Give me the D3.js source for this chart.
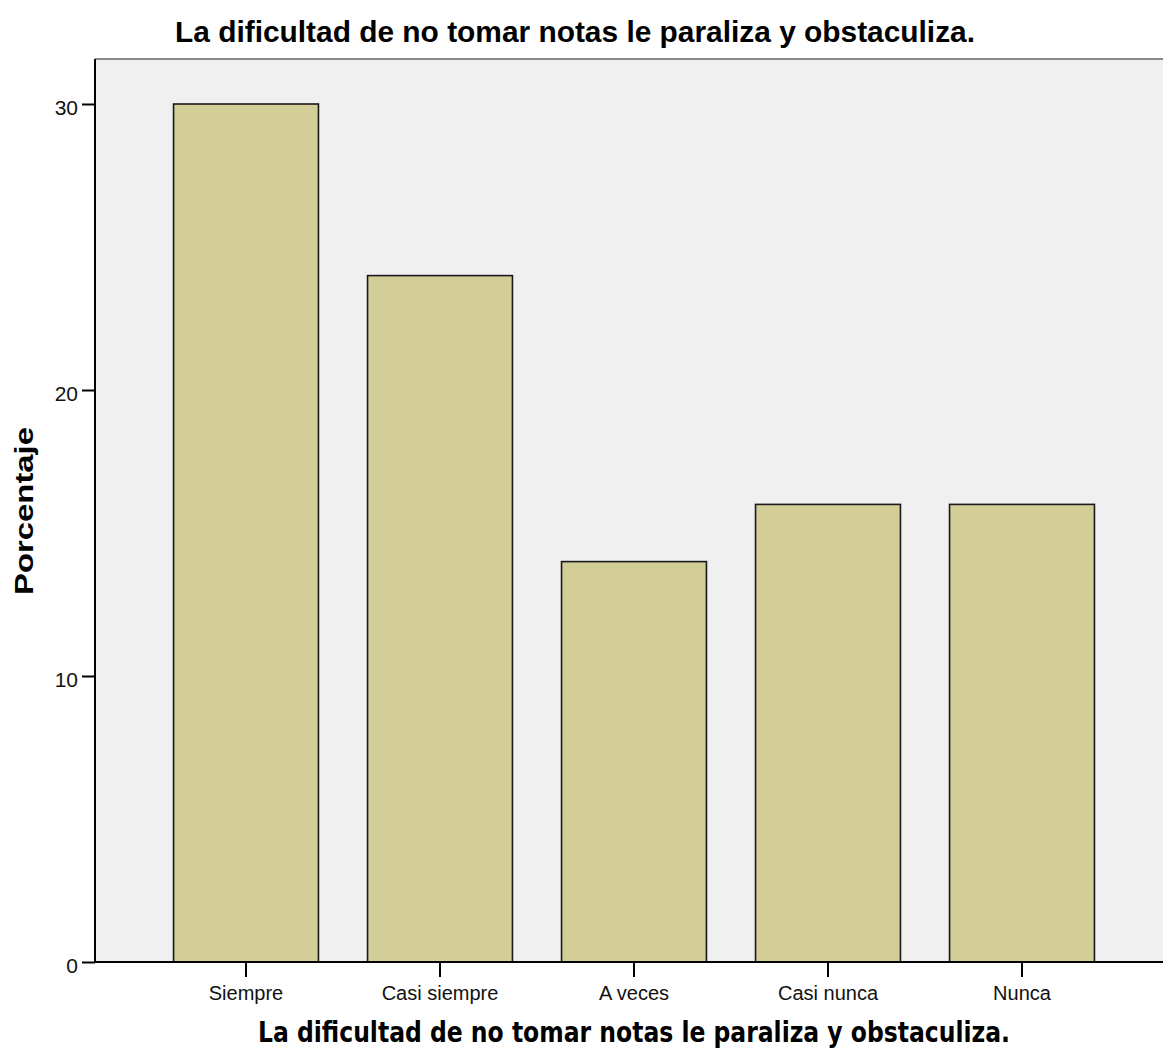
<!DOCTYPE html>
<html>
<head>
<meta charset="utf-8">
<script src="https://cdn.jsdelivr.net/npm/d3@7"></script>
<style>
  html, body { margin: 0; padding: 0; background: #ffffff; }
  svg { display: block; }
</style>
</head>
<body>
<svg id="chart" width="1163" height="1059"></svg>
<script>
// ---- data ----
const categories = ["Siempre", "Casi siempre", "A veces", "Casi nunca", "Nunca"];
const percentages = [30, 24, 14, 16, 16];
const yTickValues = [0, 10, 20, 30];
const titleText = "La dificultad de no tomar notas le paraliza y obstaculiza.";
const xAxisTitle = "La dificultad de no tomar notas le paraliza y obstaculiza.";
const yAxisTitle = "Porcentaje";

// ---- layout ----
const svg = d3.select("#chart");
const plotLeft = 95, plotTop = 59, plotRight = 1163, plotBottom = 962;

const x = d3.scaleBand()
  .domain(categories)
  .range([149, 1119])
  .paddingInner(0.253)
  .paddingOuter(0.1265);

const y = d3.scaleLinear()
  .domain([0, 30])
  .range([plotBottom, 104]);

// plot background
svg.append("rect")
  .attr("x", plotLeft).attr("y", plotTop)
  .attr("width", plotRight - plotLeft).attr("height", plotBottom - plotTop)
  .attr("fill", "#f0f0f0");

// top border
svg.append("line")
  .attr("x1", plotLeft).attr("x2", plotRight)
  .attr("y1", plotTop).attr("y2", plotTop)
  .attr("stroke", "#8a8a8a").attr("stroke-width", 2);

// bars
svg.append("g").selectAll("rect")
  .data(categories.map((c, i) => ({ c, v: percentages[i] })))
  .join("rect")
  .attr("x", d => x(d.c))
  .attr("y", d => y(d.v))
  .attr("width", x.bandwidth())
  .attr("height", d => y(0) - y(d.v))
  .attr("fill", "#d3ce97")
  .attr("stroke", "#1a1a1a")
  .attr("stroke-width", 1.6);

// y axis
const yAxis = d3.axisLeft(y).tickValues(yTickValues).tickSize(13).tickPadding(4).tickFormat(d3.format("d"));
const gy = svg.append("g").attr("transform", `translate(${plotLeft},0)`).call(yAxis);
gy.select(".domain").remove();
gy.selectAll(".tick line").attr("stroke", "#000").attr("stroke-width", 2);
gy.selectAll(".tick text")
  .attr("font-family", "'Liberation Sans', Arial, sans-serif")
  .attr("font-size", 21)
  .attr("fill", "#111")
  .attr("dy", null)
  .attr("y", 10);

svg.append("line")
  .attr("x1", plotLeft).attr("x2", plotLeft)
  .attr("y1", plotTop).attr("y2", plotBottom + 1)
  .attr("stroke", "#000").attr("stroke-width", 2);

// x axis
const xAxis = d3.axisBottom(x).tickSize(15).tickPadding(8);
const gx = svg.append("g").attr("transform", `translate(0,${plotBottom})`).call(xAxis);
gx.select(".domain").remove();
gx.selectAll(".tick line").attr("stroke", "#000").attr("stroke-width", 2);
gx.selectAll(".tick text")
  .attr("font-family", "'Liberation Sans', Arial, sans-serif")
  .attr("font-size", 20)
  .attr("fill", "#111")
  .attr("dy", null)
  .attr("y", 38);

svg.append("line")
  .attr("x1", plotLeft - 1).attr("x2", plotRight)
  .attr("y1", plotBottom).attr("y2", plotBottom)
  .attr("stroke", "#000").attr("stroke-width", 2);

// title
svg.append("text")
  .attr("x", 175).attr("y", 42)
  .attr("font-family", "'Liberation Sans', Arial, sans-serif")
  .attr("font-weight", "bold")
  .attr("font-size", 30)
  .attr("textLength", 800)
  .attr("lengthAdjust", "spacingAndGlyphs")
  .attr("fill", "#000")
  .text(titleText);

// x axis title
svg.append("text")
  .attr("x", 258).attr("y", 1042)
  .attr("font-family", "'DejaVu Sans Condensed', 'DejaVu Sans', sans-serif")
  .attr("font-weight", "bold")
  .attr("font-size", 28)
  .attr("textLength", 752)
  .attr("lengthAdjust", "spacingAndGlyphs")
  .attr("fill", "#000")
  .text(xAxisTitle);

// y axis title
svg.append("text")
  .attr("transform", "translate(33,511) rotate(-90)")
  .attr("text-anchor", "middle")
  .attr("font-family", "'Liberation Sans', Arial, sans-serif")
  .attr("font-weight", "bold")
  .attr("font-size", 26)
  .attr("textLength", 168)
  .attr("lengthAdjust", "spacingAndGlyphs")
  .attr("fill", "#000")
  .text(yAxisTitle);
</script>
</body>
</html>
